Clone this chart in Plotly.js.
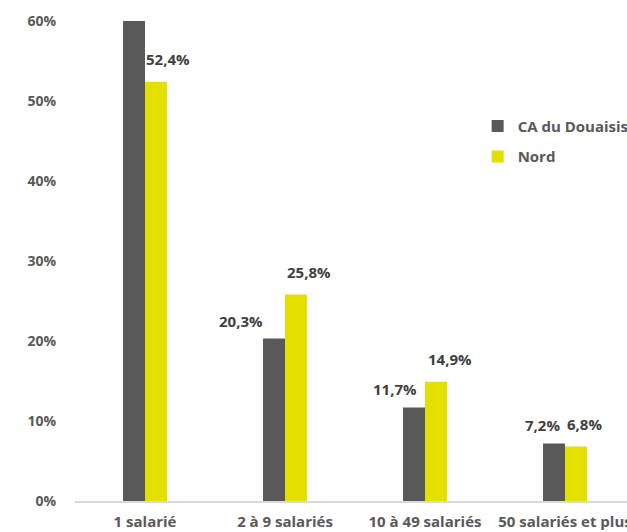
<!DOCTYPE html>
<html>
<head>
<meta charset="utf-8">
<script src="https://cdn.plot.ly/plotly-3.0.1.min.js"></script>
<style>
html,body{margin:0;padding:0;overflow:hidden;background:#fff;}
#chart{width:640px;height:532px;}
</style>
</head>
<body>
<div id="chart"></div>
<script>
var categories = ["1 salarié", "2 à 9 salariés", "10 à 49 salariés", "50 salariés et plus"];
var caDouaisis = [60.6, 20.3, 11.7, 7.2];
var nord = [52.4, 25.8, 14.9, 6.8];
var caLabels = ["", "20,3%", "11,7%", "7,2%"];
var nordLabels = ["52,4%", "25,8%", "14,9%", "6,8%"];
var yTickVals = [0, 10, 20, 30, 40, 50, 60];
var yTickText = ["0%", "10%", "20%", "30%", "40%", "50%", "60%"];

// label offsets (styling)
var caShiftX = [0, -33, -19, -12];
var nordShiftX = [12, 13, 14, 8];

var FONT = "'Open Sans', 'Liberation Sans', sans-serif";
var GREY = "#595959";
var YEL = "#e3e000";

var annotations = [];
categories.forEach(function (c, i) {
  if (caLabels[i]) {
    annotations.push({
      x: c, y: caDouaisis[i], xref: "x", yref: "y",
      text: caLabels[i], showarrow: false, xanchor: "center", yanchor: "bottom",
      xshift: -11 + caShiftX[i], yshift: 6,
      font: {family: FONT, size: 15, color: "#404040", weight: "bold"}
    });
  }
  annotations.push({
    x: c, y: nord[i], xref: "x", yref: "y",
    text: nordLabels[i], showarrow: false, xanchor: "center", yanchor: "bottom",
    xshift: 11 + nordShiftX[i], yshift: 11,
    font: {family: FONT, size: 15, color: "#404040", weight: "bold"}
  });
});

var data = [
  {type: "bar", name: "CA du Douaisis", x: categories, y: caDouaisis,
   marker: {color: GREY}, legendgroup: "a", hoverinfo: "skip", cliponaxis: true},
  {type: "bar", name: "Nord", x: categories, y: nord,
   marker: {color: YEL}, legendgroup: "b", hoverinfo: "skip", cliponaxis: true}
];

var layout = {
  width: 640, height: 532,
  margin: {l: 75, r: 5, t: 21, b: 31, pad: 0, autoexpand: false},
  paper_bgcolor: "#fff", plot_bgcolor: "#fff",
  barmode: "group", bargap: 0.686, bargroupgap: 0,
  showlegend: true,
  legend: {
    x: 0.719, y: 0.815, xanchor: "left", yanchor: "top",
    font: {family: FONT, size: 15, color: GREY, weight: "bold"},
    traceorder: "grouped", tracegroupgap: 8,
    bgcolor: "rgba(0,0,0,0)", itemwidth: 30
  },
  xaxis: {
    type: "category", showgrid: false, zeroline: false, automargin: false,
    showline: true, linecolor: "#d9d9d9", linewidth: 2,
    ticks: "", ticklabelstandoff: 6,
    tickfont: {family: FONT, size: 15, color: GREY, weight: "bold"}
  },
  yaxis: {
    range: [0, 60], showgrid: false, zeroline: false, showline: false, automargin: false,
    tickvals: yTickVals, ticktext: yTickText, ticks: "",
    ticklabelstandoff: 18,
    tickfont: {family: FONT, size: 14, color: GREY, weight: "bold"}
  },
  annotations: annotations
};

Plotly.newPlot("chart", data, layout, {displayModeBar: false, staticPlot: true});
</script>
</body>
</html>
